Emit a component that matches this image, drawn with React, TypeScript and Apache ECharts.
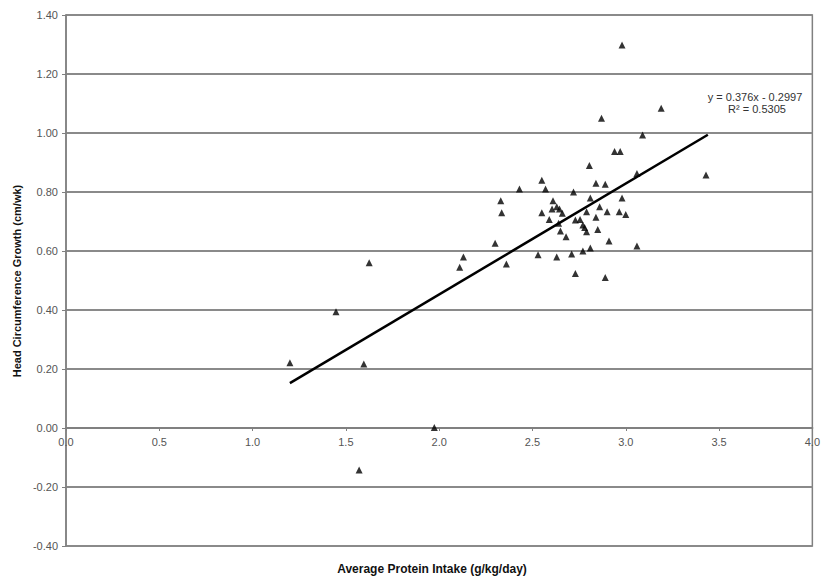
import React, { useEffect, useRef } from "react";
import * as echarts from "echarts";

const xValues = [
  1.2, 1.447, 1.625, 1.596, 1.571, 1.974, 2.11, 2.13, 2.3, 2.33, 2.335, 2.36, 2.43, 2.53,
  2.55, 2.57, 2.55, 2.59, 2.61, 2.605, 2.63, 2.645, 2.66, 2.64, 2.65, 2.68, 2.63, 2.71,
  2.72, 2.73, 2.755, 2.77, 2.78, 2.79, 2.79, 2.73, 2.77, 2.81, 2.805, 2.81, 2.84, 2.89,
  2.86, 2.84, 2.85, 2.9, 2.965, 3.0, 2.98, 2.91, 3.06, 2.89, 3.06, 3.43, 2.98, 3.19,
  2.87, 3.09, 2.94, 2.97,
];
const yValues = [
  0.221, 0.394, 0.56, 0.217, -0.142, 0.002, 0.545, 0.58, 0.626, 0.77, 0.73, 0.556, 0.81,
  0.587, 0.84, 0.81, 0.73, 0.707, 0.77, 0.742, 0.75, 0.742, 0.728, 0.694, 0.668, 0.648,
  0.58, 0.59, 0.8, 0.705, 0.707, 0.688, 0.68, 0.665, 0.733, 0.524, 0.6, 0.61, 0.89, 0.78,
  0.83, 0.826, 0.75, 0.714, 0.673, 0.733, 0.733, 0.724, 0.78, 0.634, 0.617, 0.51, 0.863,
  0.858, 1.298, 1.084, 1.05, 0.993, 0.937, 0.937,
];
const trendX = [1.2, 3.44];
const trendY = [0.152, 0.994];
const yTicks = [-0.4, -0.2, 0, 0.2, 0.4, 0.6, 0.8, 1.0, 1.2, 1.4];
const xTicks = [0, 0.5, 1.0, 1.5, 2.0, 2.5, 3.0, 3.5, 4.0];
const equationText = "y = 0.376x - 0.2997";
const r2Text = "R\u00B2 = 0.5305";
const xName = "Average Protein Intake (g/kg/day)";
const yName = "Head Circumference Growth (cm/wk)";

const FONT = "'Liberation Sans Narrow', 'Arial Narrow', 'Liberation Sans', Arial, sans-serif";

const GRID_TOP = 15;
const GRID_HEIGHT = 531;

export default function App() {
  const ref = useRef<HTMLDivElement>(null);
  useEffect(() => {
    if (!ref.current) return;
    const chart = echarts.init(ref.current, null, { renderer: "svg" });
    const points = xValues.map((x, i) => [x, yValues[i]]);
    const trend = trendX.map((x, i) => [x, trendY[i]]);
    const yMin = yTicks[0];
    const yMax = yTicks[yTicks.length - 1];
    // move the x axis up from the grid bottom to the y = 0 line
    const zeroOffset = -GRID_HEIGHT * (0 - yMin) / (yMax - yMin);
    chart.setOption({
      animation: false,
      backgroundColor: "#ffffff",
      grid: {
        left: 66,
        top: GRID_TOP,
        width: 751,
        height: GRID_HEIGHT,
        show: true,
        borderColor: "#808080",
        borderWidth: 1.5,
        containLabel: false,
      },
      xAxis: {
        type: "value",
        min: xTicks[0],
        max: xTicks[xTicks.length - 1],
        interval: 0.5,
        position: "bottom",
        offset: zeroOffset,
        axisLine: {
          show: true,
          onZero: false,
          lineStyle: { color: "#808080", width: 2 },
        },
        axisTick: { show: true, inside: false, length: 3, lineStyle: { color: "#808080" } },
        axisLabel: {
          color: "#555555",
          fontSize: 11,
          fontFamily: FONT,
          margin: 8,
          formatter: (v: number) => v.toFixed(1),
        },
        splitLine: { show: false },
      },
      yAxis: {
        type: "value",
        min: yMin,
        max: yMax,
        interval: 0.2,
        axisLine: { show: true, onZero: false, lineStyle: { color: "#808080", width: 1.5 } },
        axisTick: { show: true, length: 4, lineStyle: { color: "#808080" } },
        axisLabel: {
          color: "#555555",
          fontSize: 11,
          fontFamily: FONT,
          margin: 8,
          formatter: (v: number) => v.toFixed(2),
        },
        splitLine: { show: true, lineStyle: { color: "#8a8a8a", width: 2 } },
      },
      series: [
        {
          type: "line",
          data: trend,
          symbol: "none",
          lineStyle: { color: "#000000", width: 2.5 },
          z: 3,
        },
        {
          type: "scatter",
          data: points,
          symbol: "triangle",
          symbolSize: 7,
          itemStyle: { color: "#000000" },
          z: 4,
        },
      ],
      graphic: [
        {
          type: "text",
          x: 755,
          y: 97,
          style: {
            text: equationText,
            fill: "#333333",
            fontSize: 11,
            fontFamily: FONT,
            textAlign: "center",
            textVerticalAlign: "middle",
          },
        },
        {
          type: "text",
          x: 757,
          y: 109,
          style: {
            text: r2Text,
            fill: "#333333",
            fontSize: 11,
            fontFamily: FONT,
            textAlign: "center",
            textVerticalAlign: "middle",
          },
        },
        {
          type: "text",
          x: 432,
          y: 569,
          style: {
            text: xName,
            fill: "#111111",
            fontSize: 12,
            fontWeight: "bold",
            fontFamily: FONT,
            textAlign: "center",
            textVerticalAlign: "middle",
          },
        },
        {
          type: "text",
          x: 17,
          y: 281,
          rotation: Math.PI / 2,
          style: {
            text: yName,
            fill: "#111111",
            fontSize: 11,
            fontWeight: "bold",
            fontFamily: FONT,
            textAlign: "center",
            textVerticalAlign: "middle",
          },
        },
      ],
    });
    return () => chart.dispose();
  }, []);
  return (
    <div
      ref={ref}
      style={{ position: "fixed", left: 0, top: 0, width: 823, height: 579 }}
    />
  );
}
